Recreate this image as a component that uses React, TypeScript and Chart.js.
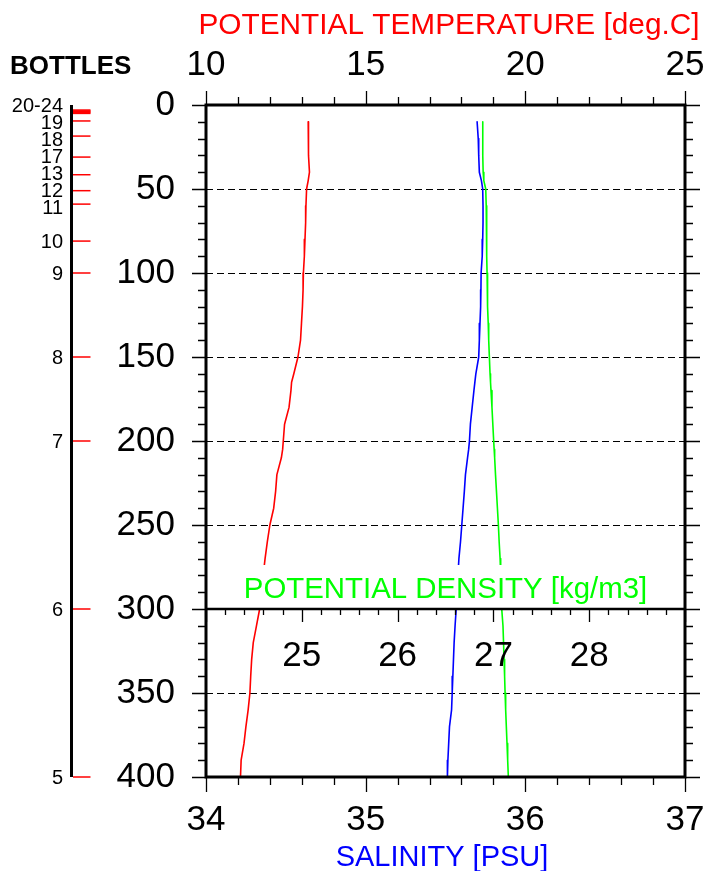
import React, { useEffect, useRef } from "react";
import { Chart, registerables } from "chart.js";

Chart.register(...registerables);

// ---- data ----
const depths = [10, 20, 30, 40, 45, 50, 60, 70, 80, 90, 100, 110, 120, 130, 140, 150, 160, 165, 170, 180, 190, 200, 205, 210, 220, 230, 240, 250, 260, 270, 280, 290, 300, 310, 320, 330, 340, 350, 360, 370, 380, 390, 400];
const temperature = [13.2, 13.2, 13.22, 13.24, 13.2, 13.15, 13.13, 13.12, 13.1, 13.08, 13.05, 13.04, 13.02, 12.99, 12.96, 12.88, 12.75, 12.68, 12.66, 12.6, 12.46, 12.42, 12.4, 12.36, 12.22, 12.18, 12.12, 12.0, 11.92, 11.85, 11.79, 11.73, 11.68, 11.58, 11.48, 11.43, 11.4, 11.375, 11.32, 11.25, 11.19, 11.1, 11.08];
const salinity = [35.698, 35.705, 35.708, 35.712, 35.725, 35.733, 35.735, 35.735, 35.733, 35.73, 35.723, 35.722, 35.72, 35.716, 35.712, 35.708, 35.69, 35.684, 35.678, 35.667, 35.656, 35.65, 35.645, 35.638, 35.625, 35.618, 35.61, 35.602, 35.594, 35.584, 35.578, 35.572, 35.567, 35.56, 35.554, 35.55, 35.546, 35.542, 35.538, 35.525, 35.52, 35.515, 35.512];
const density = [26.889, 26.889, 26.889, 26.893, 26.9, 26.92, 26.925, 26.928, 26.93, 26.932, 26.934, 26.937, 26.941, 26.946, 26.951, 26.958, 26.965, 26.97, 26.975, 26.985, 26.994, 27.003, 27.008, 27.013, 27.022, 27.032, 27.042, 27.052, 27.06, 27.07, 27.076, 27.082, 27.087, 27.1, 27.106, 27.111, 27.117, 27.122, 27.128, 27.135, 27.142, 27.149, 27.156];

const bottleNames = ["5", "6", "7", "8", "9", "10", "11", "12", "13", "17", "18", "19", "20", "21", "22", "23", "24"];
const bottleDepths = [400, 300, 200, 150, 100, 81, 59, 51, 41.5, 31, 18.5, 9.5, 3, 3.5, 4, 4.5, 5];

const depthRange = [0, 400];
const depthLabelStep = 50;
const depthMinorStep = 10;
const tempRange = [10, 25];
const tempLabelStep = 5;
const tempMinorStep = 1;
const salRange = [34, 37];
const salLabelStep = 1;
const salMinorStep = 0.2;
const densRange = [24, 29];
const densLabels = [25, 26, 27, 28];
const densMinorStep = 0.2;
const densityAxisDepth = 300;

const FONT = "'Liberation Sans', Arial, Helvetica, sans-serif";

function steps(a: number, b: number, s: number): number[] {
  const out: number[] = [];
  const n = Math.round((b - a) / s);
  for (let i = 0; i <= n; i++) out.push(+(a + i * s).toFixed(6));
  return out;
}
function isMultiple(v: number, s: number) {
  const r = v / s;
  return Math.abs(r - Math.round(r)) < 1e-6;
}

const profilePlugin = {
  id: "profilePlugin",
  beforeDatasetsDraw(chart: any) {
    const { ctx, chartArea } = chart;
    const y = chart.scales.y;
    ctx.save();
    ctx.setLineDash([7, 4]);
    ctx.lineWidth = 1;
    ctx.strokeStyle = "#000";
    steps(depthRange[0], depthRange[1], depthLabelStep).forEach((d) => {
      if (d === depthRange[0] || d === depthRange[1] || d === densityAxisDepth) return;
      const py = Math.round(y.getPixelForValue(d)) + 0.5;
      ctx.beginPath();
      ctx.moveTo(chartArea.left, py);
      ctx.lineTo(chartArea.right, py);
      ctx.stroke();
    });
    ctx.restore();
  },
  afterDatasetsDraw(chart: any) {
    const { ctx, chartArea } = chart;
    const { left, right, top, bottom } = chartArea;
    const y = chart.scales.y;
    const xT = chart.scales.xT;
    const xS = chart.scales.xS;
    const xD = chart.scales.xD;
    ctx.save();

    // density axis area (white band + label)
    const dy = y.getPixelForValue(densityAxisDepth);
    ctx.fillStyle = "#fff";
    ctx.fillRect(left + 2, dy - 44, right - left - 4, 44);
    ctx.fillStyle = "#00ff00";
    ctx.font = `29.4px ${FONT}`;
    ctx.textAlign = "center";
    ctx.textBaseline = "alphabetic";
    ctx.fillText("POTENTIAL DENSITY [kg/m3]", (left + right) / 2, dy - 11);

    ctx.strokeStyle = "#000";
    ctx.lineWidth = 2.5;
    ctx.beginPath();
    ctx.moveTo(left, dy);
    ctx.lineTo(right, dy);
    ctx.stroke();

    ctx.lineWidth = 1.3;
    steps(densRange[0], densRange[1], densMinorStep).forEach((v) => {
      const px = Math.round(xD.getPixelForValue(v)) + 0.5;
      const len = isMultiple(v, 1) ? 13 : 6;
      ctx.beginPath();
      ctx.moveTo(px, dy);
      ctx.lineTo(px, dy + len);
      ctx.stroke();
    });
    ctx.fillStyle = "#000";
    ctx.font = `35px ${FONT}`;
    ctx.textAlign = "center";
    ctx.textBaseline = "alphabetic";
    densLabels.forEach((v) => {
      ctx.fillText(String(v), xD.getPixelForValue(v), dy + 57);
    });

    // depth ticks left and right
    ctx.lineWidth = 1.3;
    steps(depthRange[0], depthRange[1], depthMinorStep).forEach((d) => {
      const py = Math.round(y.getPixelForValue(d)) + 0.5;
      const major = isMultiple(d, depthLabelStep);
      ctx.beginPath();
      ctx.moveTo(left - (major ? 14 : 8), py);
      ctx.lineTo(left, py);
      ctx.moveTo(right, py);
      ctx.lineTo(right + (major ? 15 : 8), py);
      ctx.stroke();
    });
    // temperature ticks (top)
    steps(tempRange[0], tempRange[1], tempMinorStep).forEach((v) => {
      const px = Math.round(xT.getPixelForValue(v)) + 0.5;
      const major = isMultiple(v, tempLabelStep);
      ctx.beginPath();
      ctx.moveTo(px, top);
      ctx.lineTo(px, top - (major ? 14 : 8));
      ctx.stroke();
    });
    // salinity ticks (bottom)
    steps(salRange[0], salRange[1], salMinorStep).forEach((v) => {
      const px = Math.round(xS.getPixelForValue(v)) + 0.5;
      const major = isMultiple(v, salLabelStep);
      ctx.beginPath();
      ctx.moveTo(px, bottom);
      ctx.lineTo(px, bottom + (major ? 15 : 8));
      ctx.stroke();
    });

    // frame
    ctx.lineWidth = 3;
    ctx.strokeRect(left, top, right - left, bottom - top);

    // bottles
    const bx = 71.5;
    ctx.lineWidth = 3;
    ctx.strokeStyle = "#000";
    ctx.beginPath();
    ctx.moveTo(bx, y.getPixelForValue(depthRange[0]));
    ctx.lineTo(bx, y.getPixelForValue(depthRange[1]));
    ctx.stroke();
    ctx.strokeStyle = "#ff0000";
    ctx.lineWidth = 1.5;
    bottleDepths.forEach((d) => {
      const py = y.getPixelForValue(d);
      ctx.beginPath();
      ctx.moveTo(bx + 1.5, py);
      ctx.lineTo(bx + 19, py);
      ctx.stroke();
    });
    // group bottles with near-identical depths, then spread labels
    const order = bottleDepths.map((d, i) => i).sort((a, b) => bottleDepths[a] - bottleDepths[b]);
    const groups: { names: string[]; ds: number[] }[] = [];
    order.forEach((i) => {
      const g = groups[groups.length - 1];
      if (g && bottleDepths[i] - g.ds[g.ds.length - 1] < 2) {
        g.names.push(bottleNames[i]);
        g.ds.push(bottleDepths[i]);
      } else groups.push({ names: [bottleNames[i]], ds: [bottleDepths[i]] });
    });
    const labels = groups.map((g) => {
      const nums = g.names.map(Number).sort((a, b) => a - b);
      const text = nums.length > 1 ? `${nums[0]}-${nums[nums.length - 1]}` : String(nums[0]);
      const mean = g.ds.reduce((a, b) => a + b, 0) / g.ds.length;
      return { text, py: y.getPixelForValue(mean) };
    });
    const gap = 17;
    for (let k = 0; k < 200; k++) {
      for (let i = 1; i < labels.length; i++) {
        const d = labels[i].py - labels[i - 1].py;
        if (d < gap) {
          const s = (gap - d) / 2;
          labels[i - 1].py -= s;
          labels[i].py += s;
        }
      }
    }
    ctx.fillStyle = "#000";
    ctx.font = `20px ${FONT}`;
    ctx.textAlign = "right";
    ctx.textBaseline = "alphabetic";
    labels.forEach((l) => ctx.fillText(l.text, 63, l.py + 7));

    ctx.font = `bold 26px ${FONT}`;
    ctx.textAlign = "left";
    ctx.fillText("BOTTLES", 10, 74);

    ctx.fillStyle = "#ff0000";
    ctx.font = `29.8px ${FONT}`;
    ctx.textAlign = "center";
    ctx.fillText("POTENTIAL TEMPERATURE [deg.C]", 449, 34);

    ctx.fillStyle = "#0000ff";
    ctx.font = `29px ${FONT}`;
    ctx.fillText("SALINITY [PSU]", 442, 866);

    ctx.restore();
  },
};

function noPad(s: any) {
  s.paddingLeft = 0;
  s.paddingRight = 0;
  s.paddingTop = 0;
  s.paddingBottom = 0;
}

export default function App() {
  const ref = useRef<HTMLCanvasElement | null>(null);
  useEffect(() => {
    if (!ref.current) return;
    const mk = (vals: number[]) => depths.map((d, i) => ({ x: vals[i], y: d }));
    const tickFont = { size: 35, family: FONT };
    const line = { borderWidth: 1.6, showLine: true, pointRadius: 0, borderJoinStyle: "round", borderCapStyle: "round" };
    const chart = new Chart(ref.current, {
      type: "scatter",
      data: {
        datasets: [
          { label: "Potential temperature", data: mk(temperature), xAxisID: "xT", yAxisID: "y", borderColor: "#ff0000", ...line },
          { label: "Salinity", data: mk(salinity), xAxisID: "xS", yAxisID: "y", borderColor: "#0000ff", ...line },
          { label: "Potential density", data: mk(density), xAxisID: "xD", yAxisID: "y", borderColor: "#00ff00", ...line },
        ],
      },
      options: {
        animation: false,
        responsive: false,
        maintainAspectRatio: false,
        devicePixelRatio: 1,
        events: [],
        layout: { padding: { left: 0, top: 0, right: 24, bottom: 0 } },
        plugins: { legend: { display: false }, tooltip: { enabled: false }, title: { display: false } },
        scales: {
          y: {
            type: "linear", position: "left", reverse: true, min: depthRange[0], max: depthRange[1],
            ticks: { stepSize: depthLabelStep, font: tickFont, color: "#000", padding: 31, autoSkip: false },
            grid: { display: false, drawTicks: false }, border: { display: false },
            afterFit: (s: any) => { s.width = 206; noPad(s); },
          },
          xT: {
            type: "linear", position: "top", min: tempRange[0], max: tempRange[1],
            ticks: { stepSize: tempLabelStep, font: tickFont, color: "#000", padding: 19, autoSkip: false, maxRotation: 0 },
            grid: { display: false, drawTicks: false }, border: { display: false },
            afterFit: (s: any) => { s.height = 105; noPad(s); },
          },
          xS: {
            type: "linear", position: "bottom", min: salRange[0], max: salRange[1],
            ticks: { stepSize: salLabelStep, font: tickFont, color: "#000", padding: 22, autoSkip: false, maxRotation: 0 },
            grid: { display: false, drawTicks: false }, border: { display: false },
            afterFit: (s: any) => { s.height = 94; noPad(s); },
          },
          xD: {
            type: "linear", position: "bottom", display: false, min: densRange[0], max: densRange[1],
          },
        },
      } as any,
      plugins: [profilePlugin],
    });
    return () => chart.destroy();
  }, []);
  return (
    <div style={{ position: "absolute", left: 0, top: 0, width: 709, height: 871, background: "#fff" }}>
      <canvas ref={ref} width={709} height={871} style={{ display: "block" }} />
    </div>
  );
}
